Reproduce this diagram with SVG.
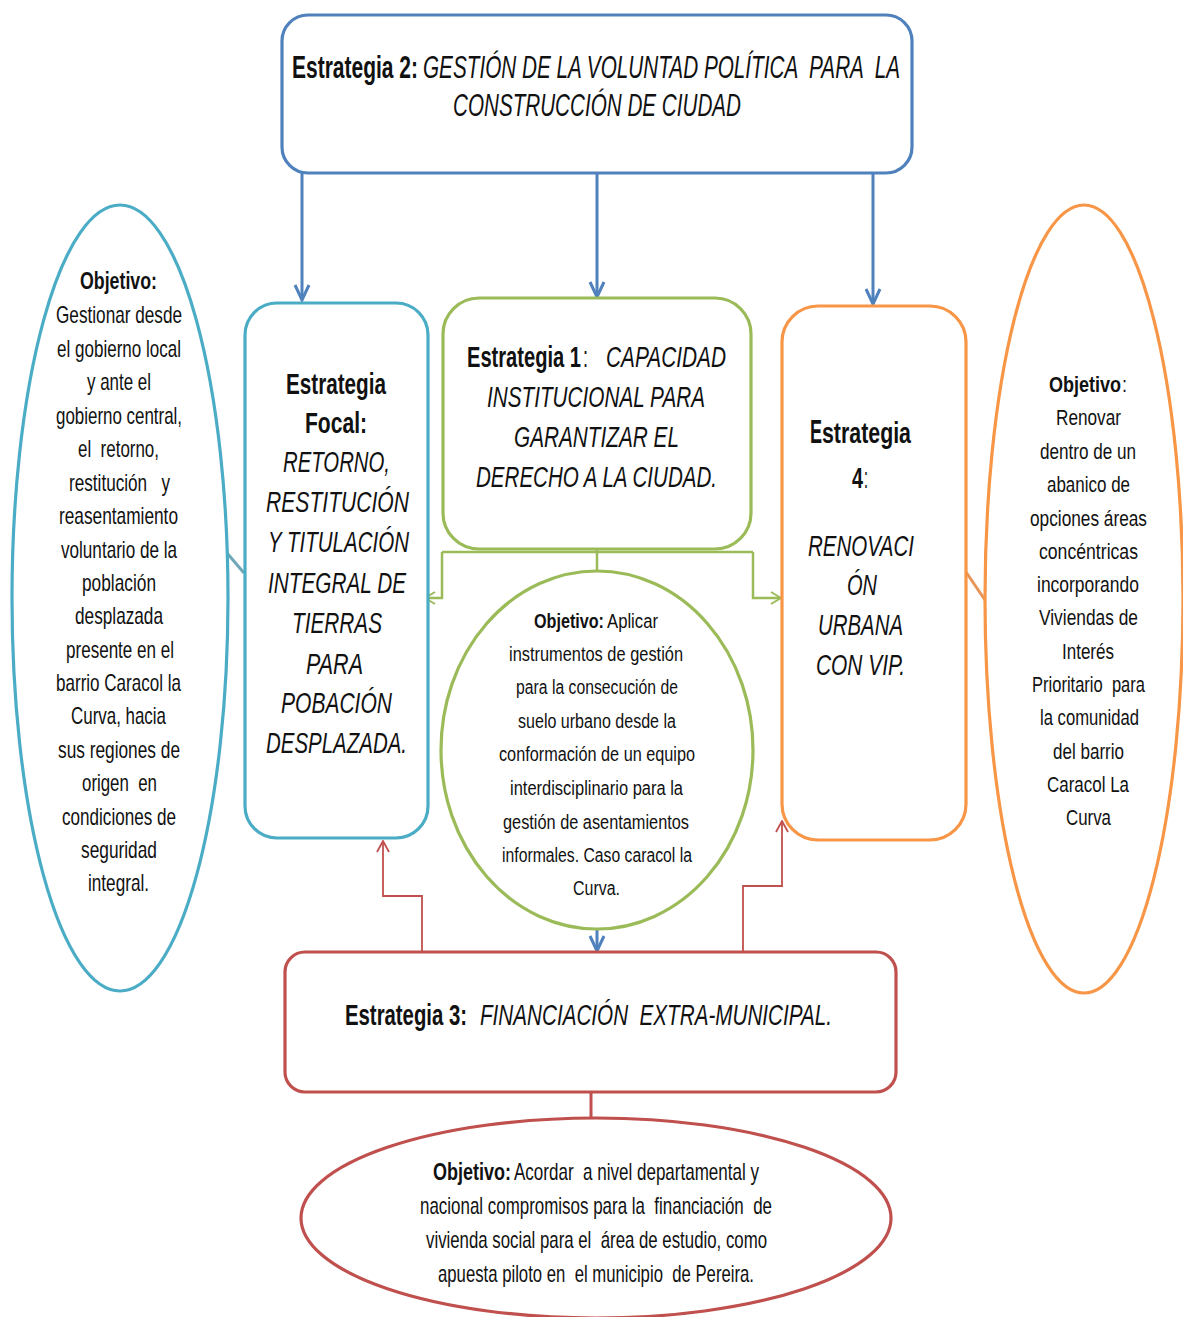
<svg xmlns="http://www.w3.org/2000/svg" width="1183" height="1317" viewBox="0 0 1183 1317">
<style>
text{font-family:"Liberation Sans",Arial,sans-serif;fill:#111;}
.b{font-weight:bold}
.i{font-style:italic}
.t30{font-size:30px}
.t24{font-size:24px}
.t22{font-size:22px}
.t20{font-size:20px}
.box{fill:#fff;stroke-width:3.2}
</style>
<defs>
<marker id="ab" markerUnits="userSpaceOnUse" markerWidth="18" markerHeight="18" refX="16" refY="8" orient="auto" viewBox="0 0 18 16">
<path d="M1,1 L16,8 L1,15" fill="none" stroke="#4F81BD" stroke-width="3"/>
</marker>
<marker id="ag" markerUnits="userSpaceOnUse" markerWidth="14" markerHeight="14" refX="13" refY="7" orient="auto" viewBox="0 0 14 14">
<path d="M3,1 L13,7 L3,13" fill="none" stroke="#9BBB59" stroke-width="2"/>
</marker>
<marker id="ar" markerUnits="userSpaceOnUse" markerWidth="14" markerHeight="16" refX="13" refY="7" orient="auto" viewBox="0 0 14 14">
<path d="M2,1 L13,7 L2,13" fill="none" stroke="#C0504D" stroke-width="1.8"/>
</marker>
</defs>

<g id="connectors" fill="none">
<path d="M302,173 V300" stroke="#4F81BD" stroke-width="3" marker-end="url(#ab)"/>
<path d="M597,173 V297" stroke="#4F81BD" stroke-width="3" marker-end="url(#ab)"/>
<path d="M873,173 V304" stroke="#4F81BD" stroke-width="3" marker-end="url(#ab)"/>
<path d="M597,549 V571" stroke="#9BBB59" stroke-width="2.5"/>
<path d="M442,552 H753" stroke="#9BBB59" stroke-width="2.5"/>
<path d="M442,552 V598 H425" stroke="#9BBB59" stroke-width="2.5" marker-end="url(#ag)"/>
<path d="M753,552 V598 H781" stroke="#9BBB59" stroke-width="2.5" marker-end="url(#ag)"/>
<path d="M597,930 V951" stroke="#4F81BD" stroke-width="3" marker-end="url(#ab)"/>
<path d="M422,952 V896 H383 V841" stroke="#C0504D" stroke-width="1.8" marker-end="url(#ar)"/>
<path d="M743,952 V886 H782 V821" stroke="#C0504D" stroke-width="1.8" marker-end="url(#ar)"/>
<path d="M591,1092 V1119" stroke="#C0504D" stroke-width="3"/>
<path d="M227,553 L244,573" stroke="#6FA7B8" stroke-width="3"/>
<path d="M966,572 L985,600" stroke="#E8955A" stroke-width="3"/>
</g>

<g id="estrategia2">
<rect class="box" x="282" y="15" width="630" height="158" rx="26" stroke="#4F81BD"/>
<text class="b" x="292" y="78" textLength="126" lengthAdjust="spacingAndGlyphs" style="font-size:32px">Estrategia 2:</text>
<text class="i" x="423" y="78" xml:space="preserve" textLength="477" lengthAdjust="spacingAndGlyphs" style="font-size:32px">GESTIÓN DE LA VOLUNTAD POLÍTICA  PARA  LA</text>
<text class="i" x="453" y="116" textLength="288" lengthAdjust="spacingAndGlyphs" style="font-size:32px">CONSTRUCCIÓN DE CIUDAD</text>
</g>

<g id="estrategiaFocal">
<rect class="box" x="245" y="303" width="183" height="535" rx="32" stroke="#4BACC6"/>
<text class="t30 b" x="286" y="394" textLength="100" lengthAdjust="spacingAndGlyphs">Estrategia</text>
<text class="t30 b" x="305" y="433" textLength="62" lengthAdjust="spacingAndGlyphs">Focal:</text>
<text class="t30 i" x="283" y="472" textLength="107" lengthAdjust="spacingAndGlyphs">RETORNO,</text>
<text class="t30 i" x="266" y="512" textLength="143" lengthAdjust="spacingAndGlyphs">RESTITUCIÓN</text>
<text class="t30 i" x="268" y="552" textLength="141" lengthAdjust="spacingAndGlyphs">Y TITULACIÓN</text>
<text class="t30 i" x="268" y="593" textLength="138" lengthAdjust="spacingAndGlyphs">INTEGRAL DE</text>
<text class="t30 i" x="292" y="633" textLength="90" lengthAdjust="spacingAndGlyphs">TIERRAS</text>
<text class="t30 i" x="306" y="674" textLength="57" lengthAdjust="spacingAndGlyphs">PARA</text>
<text class="t30 i" x="281" y="713" textLength="111" lengthAdjust="spacingAndGlyphs">POBACIÓN</text>
<text class="t30 i" x="266" y="753" textLength="141" lengthAdjust="spacingAndGlyphs">DESPLAZADA.</text>
</g>

<g id="estrategia1">
<rect class="box" x="443" y="298" width="308" height="251" rx="36" stroke="#9BBB59"/>
<text class="t30 b" x="467" y="367" textLength="114" lengthAdjust="spacingAndGlyphs">Estrategia 1</text>
<text class="t30" x="583" y="367" textLength="5" lengthAdjust="spacingAndGlyphs">:</text>
<text class="t30 i" x="606" y="367" textLength="120" lengthAdjust="spacingAndGlyphs">CAPACIDAD</text>
<text class="t30 i" x="487" y="407" textLength="218" lengthAdjust="spacingAndGlyphs">INSTITUCIONAL PARA</text>
<text class="t30 i" x="514" y="447" textLength="165" lengthAdjust="spacingAndGlyphs">GARANTIZAR EL</text>
<text class="t30 i" x="476" y="487" textLength="241" lengthAdjust="spacingAndGlyphs">DERECHO A LA CIUDAD.</text>
</g>

<g id="estrategia4">
<rect class="box" x="782" y="306" width="184" height="534" rx="36" stroke="#F79646"/>
<text class="b" x="810" y="443" textLength="12" lengthAdjust="spacingAndGlyphs" style="font-size:34px">E</text>
<text class="t30 b" x="822" y="443" textLength="89" lengthAdjust="spacingAndGlyphs">strategia</text>
<text class="t30 b" x="852" y="488" textLength="11" lengthAdjust="spacingAndGlyphs">4</text>
<text class="t30" x="864" y="488" textLength="4" lengthAdjust="spacingAndGlyphs">:</text>
<text class="t30 i" x="808" y="556" textLength="106" lengthAdjust="spacingAndGlyphs">RENOVACI</text>
<text class="t30 i" x="847" y="595" textLength="30" lengthAdjust="spacingAndGlyphs">ÓN</text>
<text class="t30 i" x="818" y="635" textLength="85" lengthAdjust="spacingAndGlyphs">URBANA</text>
<text class="t30 i" x="816" y="675" textLength="89" lengthAdjust="spacingAndGlyphs">CON VIP.</text>
</g>

<g id="objetivo1">
<ellipse cx="597" cy="750" rx="156" ry="179" fill="#fff" stroke="#9BBB59" stroke-width="3.2"/>
<text class="t20 b" x="534" y="628" textLength="70" lengthAdjust="spacingAndGlyphs">Objetivo:</text>
<text class="t20" x="607" y="628" textLength="51" lengthAdjust="spacingAndGlyphs">Aplicar</text>
<text class="t20" x="509" y="661" textLength="174" lengthAdjust="spacingAndGlyphs">instrumentos de gestión</text>
<text class="t20" x="516" y="694" textLength="162" lengthAdjust="spacingAndGlyphs">para la consecución de</text>
<text class="t20" x="518" y="728" textLength="158" lengthAdjust="spacingAndGlyphs">suelo urbano desde la</text>
<text class="t20" x="499" y="761" textLength="196" lengthAdjust="spacingAndGlyphs">conformación de un equipo</text>
<text class="t20" x="510" y="795" textLength="173" lengthAdjust="spacingAndGlyphs">interdisciplinario para la</text>
<text class="t20" x="503" y="829" textLength="186" lengthAdjust="spacingAndGlyphs">gestión de asentamientos</text>
<text class="t20" x="502" y="862" textLength="190" lengthAdjust="spacingAndGlyphs">informales. Caso caracol la</text>
<text class="t20" x="573" y="895" textLength="47" lengthAdjust="spacingAndGlyphs">Curva.</text>
</g>

<g id="estrategia3">
<rect class="box" x="285" y="952" width="611" height="140" rx="20" stroke="#C0504D"/>
<text class="t30 b" x="345" y="1025" textLength="122" lengthAdjust="spacingAndGlyphs">Estrategia 3:</text>
<text class="t30 i" x="480" y="1025" xml:space="preserve" textLength="352" lengthAdjust="spacingAndGlyphs">FINANCIACIÓN  EXTRA-MUNICIPAL.</text>
</g>

<g id="objetivo3">
<ellipse cx="596" cy="1218" rx="295" ry="100" fill="#fff" stroke="#C0504D" stroke-width="3.2"/>
<text class="t24 b" x="433" y="1180" textLength="78" lengthAdjust="spacingAndGlyphs">Objetivo:</text>
<text class="t24" x="514" y="1180" xml:space="preserve" textLength="245" lengthAdjust="spacingAndGlyphs">Acordar  a nivel departamental y</text>
<text class="t24" x="420" y="1214" xml:space="preserve" textLength="352" lengthAdjust="spacingAndGlyphs">nacional compromisos para la  financiación  de</text>
<text class="t24" x="426" y="1248" xml:space="preserve" textLength="341" lengthAdjust="spacingAndGlyphs">vivienda social para el  área de estudio, como</text>
<text class="t24" x="438" y="1282" xml:space="preserve" textLength="316" lengthAdjust="spacingAndGlyphs">apuesta piloto en  el municipio  de Pereira.</text>
</g>

<g id="objetivoFocal">
<ellipse cx="120" cy="598" rx="108" ry="393" fill="#fff" stroke="#4BACC6" stroke-width="3.2"/>
<text class="t24 b" x="80" y="289" textLength="77" lengthAdjust="spacingAndGlyphs">Objetivo:</text>
<text class="t24" x="56" y="323" textLength="126" lengthAdjust="spacingAndGlyphs">Gestionar desde</text>
<text class="t24" x="57" y="357" textLength="124" lengthAdjust="spacingAndGlyphs">el gobierno local</text>
<text class="t24" x="87" y="390" textLength="64" lengthAdjust="spacingAndGlyphs">y ante el</text>
<text class="t24" x="56" y="424" textLength="126" lengthAdjust="spacingAndGlyphs">gobierno central,</text>
<text class="t24" x="78" y="457" xml:space="preserve" textLength="81" lengthAdjust="spacingAndGlyphs">el  retorno,</text>
<text class="t24" x="69" y="491" xml:space="preserve" textLength="101" lengthAdjust="spacingAndGlyphs">restitución   y</text>
<text class="t24" x="59" y="524" textLength="119" lengthAdjust="spacingAndGlyphs">reasentamiento</text>
<text class="t24" x="61" y="558" textLength="116" lengthAdjust="spacingAndGlyphs">voluntario de la</text>
<text class="t24" x="82" y="591" textLength="74" lengthAdjust="spacingAndGlyphs">población</text>
<text class="t24" x="75" y="624" textLength="88" lengthAdjust="spacingAndGlyphs">desplazada</text>
<text class="t24" x="66" y="658" textLength="108" lengthAdjust="spacingAndGlyphs">presente en el</text>
<text class="t24" x="56" y="691" textLength="125" lengthAdjust="spacingAndGlyphs">barrio Caracol la</text>
<text class="t24" x="71" y="724" textLength="95" lengthAdjust="spacingAndGlyphs">Curva, hacia</text>
<text class="t24" x="58" y="758" textLength="122" lengthAdjust="spacingAndGlyphs">sus regiones de</text>
<text class="t24" x="82" y="791" xml:space="preserve" textLength="75" lengthAdjust="spacingAndGlyphs">origen  en</text>
<text class="t24" x="62" y="825" textLength="114" lengthAdjust="spacingAndGlyphs">condiciones de</text>
<text class="t24" x="81" y="858" textLength="76" lengthAdjust="spacingAndGlyphs">seguridad</text>
<text class="t24" x="88" y="891" textLength="61" lengthAdjust="spacingAndGlyphs">integral.</text>
</g>

<g id="objetivo4">
<ellipse cx="1084" cy="599" rx="99" ry="394" fill="#fff" stroke="#F79646" stroke-width="3.2"/>
<text class="t22 b" x="1049" y="392" textLength="72" lengthAdjust="spacingAndGlyphs">Objetivo</text>
<text class="t22" x="1122" y="392" textLength="5" lengthAdjust="spacingAndGlyphs">:</text>
<text class="t22" x="1056" y="425" textLength="65" lengthAdjust="spacingAndGlyphs">Renovar</text>
<text class="t22" x="1040" y="459" textLength="96" lengthAdjust="spacingAndGlyphs">dentro de un</text>
<text class="t22" x="1047" y="492" textLength="83" lengthAdjust="spacingAndGlyphs">abanico de</text>
<text class="t22" x="1030" y="526" textLength="117" lengthAdjust="spacingAndGlyphs">opciones áreas</text>
<text class="t22" x="1039" y="559" textLength="99" lengthAdjust="spacingAndGlyphs">concéntricas</text>
<text class="t22" x="1037" y="592" textLength="102" lengthAdjust="spacingAndGlyphs">incorporando</text>
<text class="t22" x="1039" y="625" textLength="99" lengthAdjust="spacingAndGlyphs">Viviendas de</text>
<text class="t22" x="1062" y="659" textLength="52" lengthAdjust="spacingAndGlyphs">Interés</text>
<text class="t22" x="1032" y="692" xml:space="preserve" textLength="113" lengthAdjust="spacingAndGlyphs">Prioritario  para</text>
<text class="t22" x="1040" y="725" textLength="99" lengthAdjust="spacingAndGlyphs">la comunidad</text>
<text class="t22" x="1053" y="759" textLength="71" lengthAdjust="spacingAndGlyphs">del barrio</text>
<text class="t22" x="1047" y="792" textLength="82" lengthAdjust="spacingAndGlyphs">Caracol La</text>
<text class="t22" x="1066" y="825" textLength="45" lengthAdjust="spacingAndGlyphs">Curva</text>
</g>
</svg>
